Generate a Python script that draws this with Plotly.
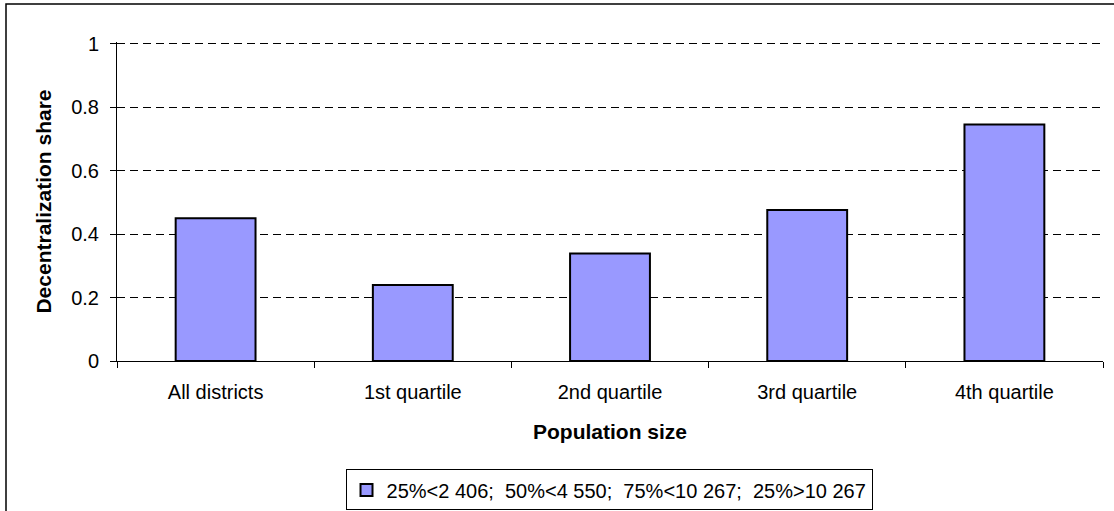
import plotly.graph_objects as go

categories = ["All districts", "1st quartile", "2nd quartile", "3rd quartile", "4th quartile"]
shares = [0.450, 0.240, 0.339, 0.476, 0.746]
series_name = "25%<2 406;\u00a0 50%<4 550;\u00a0 75%<10 267;\u00a0 25%>10 267"
y_ticks = [0, 0.2, 0.4, 0.6, 0.8, 1]
y_tick_labels = ["0", "0.2", "0.4", "0.6", "0.8", "1"]

FONT = "Liberation Sans, Arial, sans-serif"

fig = go.Figure()
fig.add_trace(go.Bar(
    x=categories,
    y=shares,
    name=series_name,
    width=0.405,
    marker=dict(color="#9999FF", line=dict(color="#000000", width=2)),
    showlegend=True,
))

fig.update_layout(
    width=1114,
    height=511,
    margin=dict(l=117, r=11, t=42, b=150, autoexpand=False),
    paper_bgcolor="white",
    plot_bgcolor="white",
    font=dict(family=FONT, size=20, color="#000000"),
    showlegend=True,
    legend=dict(
        orientation="h",
        x=0.499, xanchor="center",
        y=-0.34, yanchor="top",
        bordercolor="#000000", borderwidth=1,
        bgcolor="white",
        font=dict(family=FONT, size=20, color="#000000"),
        itemwidth=30,
    ),
    xaxis=dict(
        type="category",
        showline=True, linecolor="#000000", linewidth=1,
        ticks="outside", ticklen=6, tickcolor="#000000",
        tickson="boundaries",
        showgrid=False,
        tickfont=dict(family=FONT, size=20),
        ticklabelstandoff=13,
        title=dict(text="<b>Population size</b>", font=dict(family=FONT, size=21), standoff=22),
    ),
    yaxis=dict(
        range=[0, 1.006],
        tickvals=y_ticks, ticktext=y_tick_labels,
        showline=True, linecolor="#000000", linewidth=1,
        ticks="outside", ticklen=6, tickcolor="#000000",
        showgrid=True, gridcolor="#000000", gridwidth=1, griddash="8px,5px",
        zeroline=False,
        tickfont=dict(family=FONT, size=20),
        ticklabelstandoff=7,
        title=dict(text="<b>Decentralization share</b>", font=dict(family=FONT, size=21), standoff=13),
    ),
    shapes=[
        # outer chart frame
        dict(type="rect", xref="paper", yref="paper",
             x0=(6 - 117) / 986, x1=1.3, y0=-1.0, y1=(361 - 4) / 319,
             line=dict(color="#000000", width=1.5), fillcolor="rgba(0,0,0,0)", layer="below"),
    ],
)

fig.write_html("out.html")
